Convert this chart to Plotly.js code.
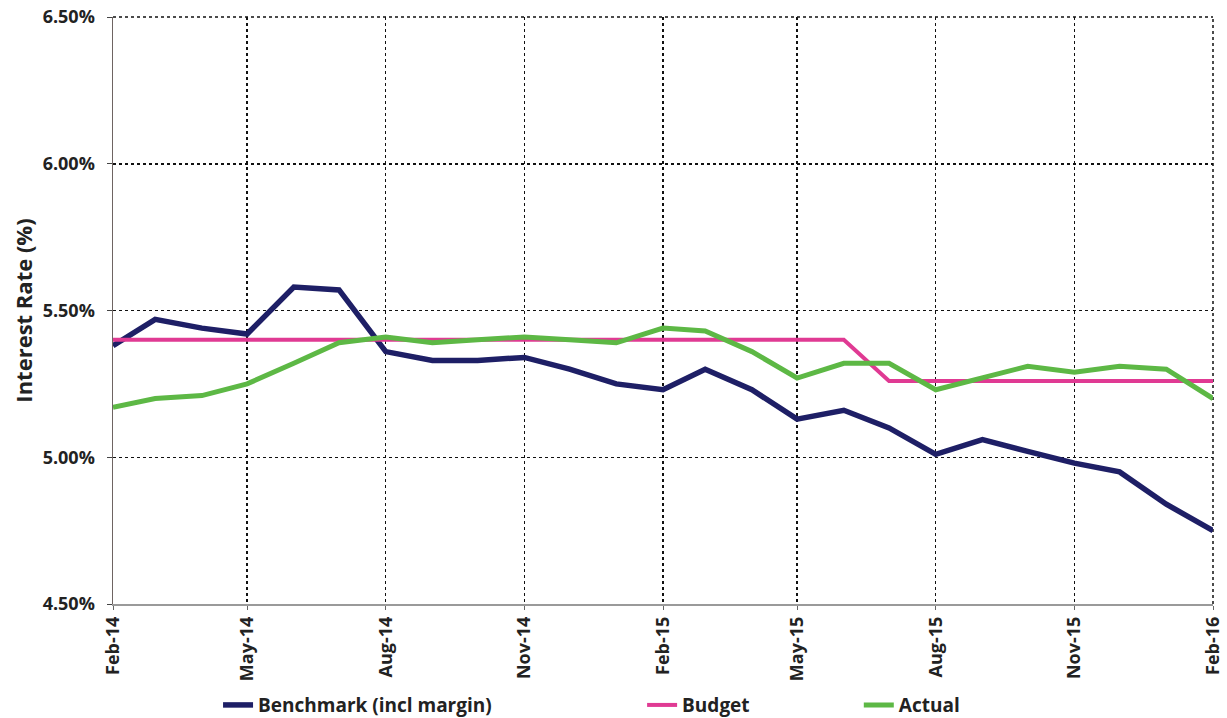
<!DOCTYPE html>
<html>
<head>
<meta charset="utf-8">
<script src="https://cdn.plot.ly/plotly-3.0.1.min.js"></script>
<style>html,body{margin:0;padding:0;background:#fff;}#chart{width:1227px;height:718px;}</style>
</head>
<body>
<div id="chart"></div>
<script>
const months = ['2014-02-01','2014-03-01','2014-04-01','2014-05-01','2014-06-01','2014-07-01','2014-08-01','2014-09-01','2014-10-01','2014-11-01','2014-12-01','2015-01-01','2015-02-01','2015-03-01','2015-04-01','2015-05-01','2015-06-01','2015-07-01','2015-08-01','2015-09-01','2015-10-01','2015-11-01','2015-12-01','2016-01-01','2016-02-01'];
const benchmark = [5.38,5.47,5.44,5.42,5.58,5.57,5.36,5.33,5.33,5.34,5.30,5.25,5.23,5.30,5.23,5.13,5.16,5.10,5.01,5.06,5.02,4.98,4.95,4.84,4.75];
const budget = [5.40,5.40,5.40,5.40,5.40,5.40,5.40,5.40,5.40,5.40,5.40,5.40,5.40,5.40,5.40,5.40,5.40,5.26,5.26,5.26,5.26,5.26,5.26,5.26,5.26];
const actual = [5.17,5.20,5.21,5.25,5.32,5.39,5.41,5.39,5.40,5.41,5.40,5.39,5.44,5.43,5.36,5.27,5.32,5.32,5.23,5.27,5.31,5.29,5.31,5.30,5.20];
const seriesNames = ['Benchmark (incl margin)','Budget','Actual'];
const xTickVals = ['2014-02-01','2014-05-01','2014-08-01','2014-11-01','2015-02-01','2015-05-01','2015-08-01','2015-11-01','2016-02-01'];
const xTickText = ['Feb-14','May-14','Aug-14','Nov-14','Feb-15','May-15','Aug-15','Nov-15','Feb-16'];
const yTickVals = [4.5,5.0,5.5,6.0,6.5];
const yTickText = ['4.50%','5.00%','5.50%','6.00%','6.50%'];

const FONT = '"Open Sans", Lato, sans-serif';
const bold = s => '<b>' + s + '</b>';
const traces = [
  {x: months, y: benchmark, name: bold(seriesNames[0]), type:'scatter', mode:'lines', line:{color:'#1e1f66', width:5.5}, legend:'legend'},
  {x: months, y: budget, name: bold(seriesNames[1]), type:'scatter', mode:'lines', line:{color:'#e03a93', width:4}, legend:'legend2'},
  {x: months, y: actual, name: bold(seriesNames[2]), type:'scatter', mode:'lines', line:{color:'#5db845', width:5}, legend:'legend3'}
];
const legBase = {orientation:'h', yref:'container', yanchor:'middle', y:0.018, xanchor:'left', bgcolor:'rgba(0,0,0,0)', font:{family:FONT, size:19, color:'#222'}};
const dotLine = {type:'line', xref:'paper', yref:'paper', line:{color:'#111', width:1.5, dash:'dot'}, layer:'below'};
const layout = {
  width:1227, height:718,
  margin:{l:113, r:14, t:17, b:114},
  paper_bgcolor:'#fff', plot_bgcolor:'#fff',
  font:{family:FONT, color:'#222'},
  showlegend:true,
  legend: Object.assign({}, legBase, {x:0.0955}),
  legend2: Object.assign({}, legBase, {x:0.481}),
  legend3: Object.assign({}, legBase, {x:0.678}),
  shapes:[
    Object.assign({}, dotLine, {x0:0, x1:1, y0:1, y1:1}),
    Object.assign({}, dotLine, {x0:1, x1:1, y0:0, y1:1})
  ],
  xaxis:{
    type:'date', range:['2014-02-01','2016-02-01'],
    tickmode:'array', tickvals:xTickVals, ticktext:xTickText.map(bold), tickangle:-90,
    tickfont:{family:FONT, size:18, color:'#222'},
    showgrid:true, gridcolor:'#111', griddash:'dot', gridwidth:1.5,
    showline:true, linecolor:'#9a9a9a', linewidth:1.5,
    ticks:'outside', ticklen:4, tickcolor:'#666',
    zeroline:false
  },
  yaxis:{
    range:[4.5,6.5], tickmode:'array', tickvals:yTickVals, ticktext:yTickText.map(bold),
    tickfont:{family:FONT, size:18, color:'#222'},
    ticklabelstandoff:8,
    title:{text:bold('Interest Rate (%)'), font:{family:FONT, size:22, color:'#222'}, standoff:4},
    showgrid:true, gridcolor:'#111', griddash:'dot', gridwidth:1.5,
    showline:true, linecolor:'#6e6462', linewidth:1.5,
    ticks:'outside', ticklen:5, tickcolor:'#444',
    zeroline:false
  }
};
Plotly.newPlot('chart', traces, layout, {displayModeBar:false, staticPlot:true});
</script>
</body>
</html>
